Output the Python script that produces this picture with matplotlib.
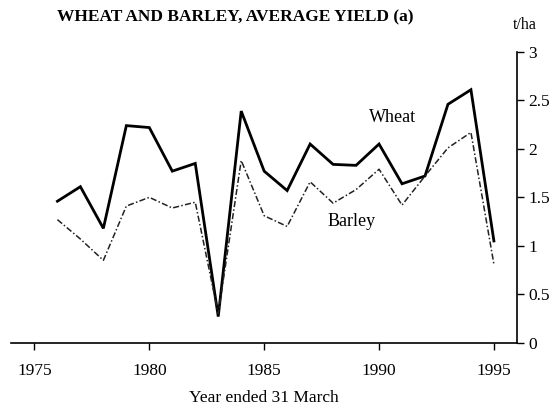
import numpy as np
import matplotlib
matplotlib.use("Agg")
import matplotlib.pyplot as plt

# yield in t/ha, year ended 31 March
years = [1976, 1977, 1978, 1979, 1980, 1981, 1982, 1983, 1984, 1985,
         1986, 1987, 1988, 1989, 1990, 1991, 1992, 1993, 1994, 1995]
wheat = [1.46, 1.61, 1.18, 2.24, 2.22, 1.77, 1.85, 0.27, 2.39, 1.77,
         1.57, 2.05, 1.84, 1.83, 2.05, 1.64, 1.72, 2.46, 2.61, 1.05]
barley = [1.27, 1.07, 0.85, 1.41, 1.50, 1.39, 1.45, 0.30, 1.88, 1.31,
          1.20, 1.66, 1.44, 1.58, 1.79, 1.42, 1.72, 2.01, 2.17, 0.81]
xticks = [1975, 1980, 1985, 1990, 1995]
yticks = [0, 0.5, 1, 1.5, 2, 2.5, 3]
ytick_labels = ['0', '0.5', '1', '1.5', '2', '2.5', '3']

plt.rcParams['font.family'] = ['Liberation Serif', 'DejaVu Serif']

fig = plt.figure(figsize=(5.6, 4.09), dpi=100)
ax = fig.add_axes([0.0205, 0.162, 0.9025, 0.711])

ax.plot(years, wheat, color='black', lw=2.0, solid_joinstyle='miter')
ax.plot(years, barley, color='#222222', lw=1.1, linestyle=(0, (4, 1.5, 1, 1.5)))

ax.text(1990.6, 2.32, 'Wheat', fontsize=13, ha='center', va='center')
ax.text(1988.8, 1.25, 'Barley', fontsize=13, ha='center', va='center')

ax.set_xlim(1974, 1996)
ax.set_ylim(0, 3)
ax.set_xticks(xticks)
ax.set_yticks(yticks)
ax.set_yticklabels(ytick_labels)
ax.yaxis.tick_right()
ax.tick_params(axis='both', labelsize=12.5, length=5, width=1, direction='out')
ax.tick_params(axis='x', pad=9.5)
ax.tick_params(axis='y', pad=3)

for s in ['top', 'left']:
    ax.spines[s].set_visible(False)
ax.spines['bottom'].set_linewidth(1.2)
ax.spines['right'].set_linewidth(1.2)

ax.set_xlabel('Year ended 31 March', fontsize=12.5, labelpad=8)

fig.text(0.102, 0.957, 'WHEAT AND BARLEY, AVERAGE YIELD (a)', fontsize=12.5,
         fontweight='bold', ha='left', va='center')
fig.text(0.915, 0.939, 't/ha', fontsize=11.5, ha='left', va='center')

fig.savefig('out.png', dpi=100)
